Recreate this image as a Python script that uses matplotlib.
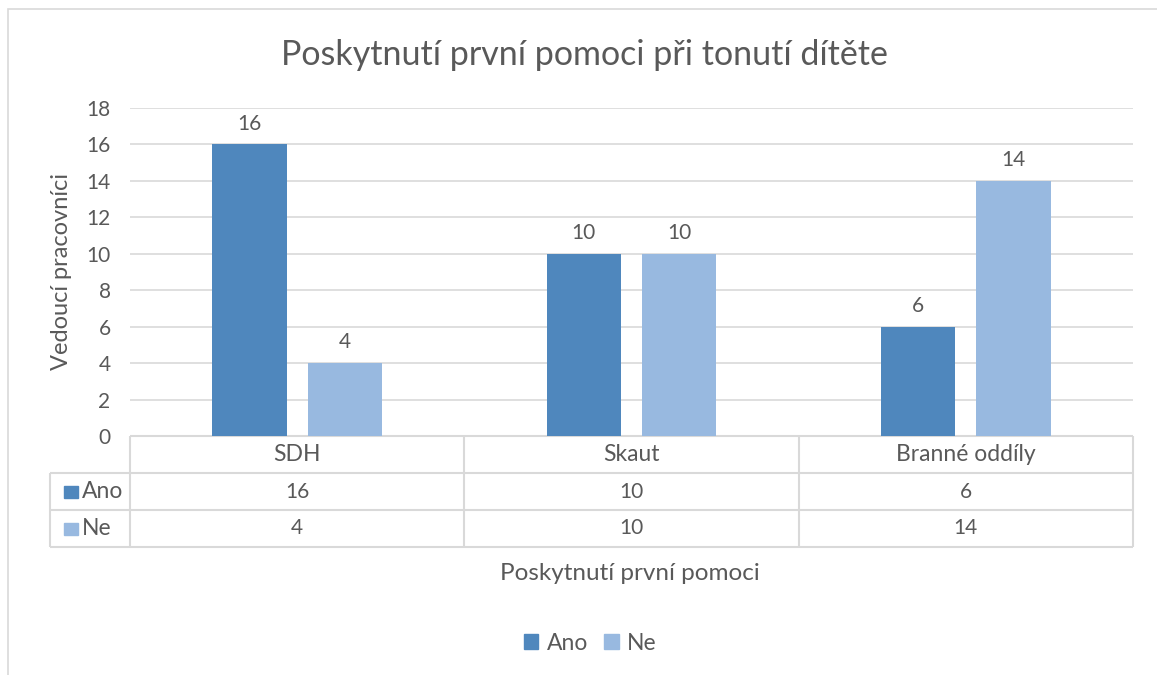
import numpy as np
import matplotlib
matplotlib.use("Agg")
import matplotlib.pyplot as plt
from matplotlib.patches import Rectangle, Patch
from matplotlib.transforms import blended_transform_factory

categories = ["SDH", "Skaut", "Branné oddíly"]
series_names = ["Ano", "Ne"]
ano = [16, 10, 6]
ne = [4, 10, 14]
yticks = [0, 2, 4, 6, 8, 10, 12, 14, 16, 18]

COLORS = ["#4f87bd", "#98b9e0"]
TXT = "#595959"
GRID = "#d9d9d9"
NUM = 15      # numbers
WORD = 16.5   # words

plt.rcParams.update({"font.family": ["Lato", "DejaVu Sans"]})

W, H = 1157, 675
fig = plt.figure(figsize=(W / 100, H / 100), dpi=100)


def fx(px):
    return px / W


def fy(py):
    return 1 - py / H


# outer chart border (top/left visible)
fig.add_artist(Rectangle((fx(8), fy(700)), fx(1200 - 8), (700 - 9) / H, transform=fig.transFigure,
                         fill=False, edgecolor=GRID, lw=1.2))

ax = fig.add_axes([fx(130), fy(436), fx(1133 - 130), (436 - 108) / H])
x = np.arange(len(categories))
bw = 0.222
off = (bw + 21 / 334.3) / 2
vals = [ano, ne]
for i, v in enumerate(vals):
    pos = x + (-off if i == 0 else off)
    ax.bar(pos, v, width=bw, color=COLORS[i], zorder=3)
    for p, val in zip(pos, v):
        ax.text(p, val + 0.6, str(val), ha="center", va="bottom", fontsize=NUM, color=TXT)

ax.set_xlim(-0.5, 2.5)
ax.set_ylim(0, 18)
ax.set_yticks(yticks)
ax.set_xticks([])
ax.yaxis.grid(True, color=GRID, lw=1.2, zorder=0)
ax.tick_params(axis="y", length=0, labelsize=NUM, labelcolor=TXT, pad=14)
for s in ax.spines.values():
    s.set_visible(False)
ax.set_ylabel("Vedoucí pracovníci", fontsize=17, color=TXT, labelpad=10)

# data table below the axes
tr = blended_transform_factory(ax.transData, ax.transAxes)
rh = 37 / 328
left = -0.5 - (130 - 50) / 334.3
lk = dict(color=GRID, lw=1.5, clip_on=False, transform=tr, solid_capstyle="butt")
ax.plot([-0.5, 2.5], [0, 0], **lk)
for r in (1, 2, 3):
    ax.plot([left, 2.5], [-r * rh, -r * rh], **lk)
for xv in (-0.5, 0.5, 1.5, 2.5):
    ax.plot([xv, xv], [0, -3 * rh], **lk)
ax.plot([left, left], [-rh, -3 * rh], **lk)

for xi, c in zip(x, categories):
    ax.text(xi, -0.5 * rh, c, ha="center", va="center", fontsize=WORD, color=TXT, transform=tr)
for r, (name, v) in enumerate(zip(series_names, vals)):
    yc = -(r + 1.5) * rh
    for xi, val in zip(x, v):
        ax.text(xi, yc, str(val), ha="center", va="center", fontsize=NUM, color=TXT, transform=tr)
    ax.add_patch(Rectangle((left + 14 / 334.3, yc - 6 / 328), 14 / 334.3, 12 / 328, color=COLORS[r],
                           transform=tr, clip_on=False))
    ax.text(left + 32 / 334.3, yc, name, ha="left", va="center", fontsize=WORD, color=TXT, transform=tr)

fig.text(fx(630), fy(573), "Poskytnutí první pomoci", ha="center", va="center", fontsize=17.5, color=TXT)
fig.text(fx(584), fy(55), "Poskytnutí první pomoci při tonutí dítěte", ha="center", va="center",
         fontsize=24.5, color=TXT)

handles = [Patch(color=c, label=n) for c, n in zip(COLORS, series_names)]
fig.legend(handles=handles, loc="center", bbox_to_anchor=(fx(590), fy(643)), ncol=2, frameon=False,
           fontsize=WORD, labelcolor=TXT, handlelength=0.65, handleheight=0.65, handletextpad=0.35,
           columnspacing=0.7)

fig.savefig("out.png", dpi=100)
